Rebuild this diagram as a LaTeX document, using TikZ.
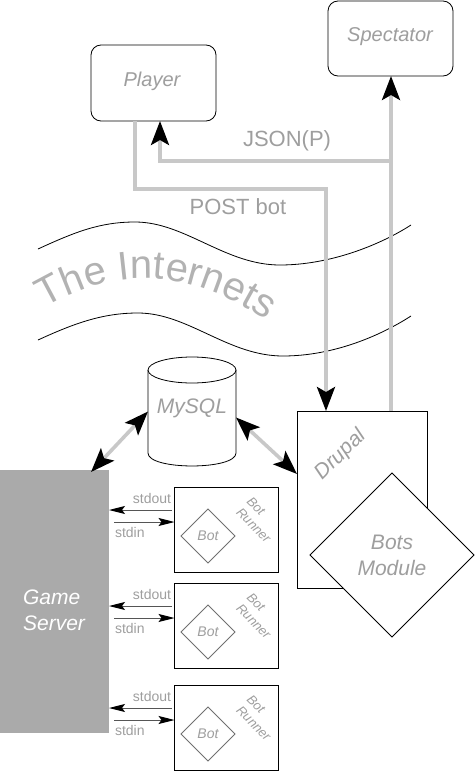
\documentclass[tikz,border=0pt]{standalone}
\usepackage{fontspec}
\setmainfont{Liberation Sans}
\usetikzlibrary{arrows.meta,shapes.geometric,decorations.text,calc}
\definecolor{txtgray}{HTML}{9E9E9E}
\definecolor{linegray}{HTML}{C8C8C8}
\definecolor{gsgray}{HTML}{AAAAAA}
\definecolor{netgray}{HTML}{B2B2B2}
\definecolor{thingray}{HTML}{555555}
\definecolor{botgray}{HTML}{707070}
\newcommand\netfont{\fontsize{40}{40}\selectfont}
\begin{document}
\begin{tikzpicture}[x=1pt,y=-1pt,
  every node/.style={inner sep=0pt, outer sep=0pt},
  clientbox/.style={draw=black, line width=0.8pt, fill=white, rounded corners=10pt, minimum width=125pt, minimum height=76pt},
  lbl/.style={text=txtgray, font=\fontsize{20}{24}\selectfont\itshape},
  biglbl/.style={text=txtgray, font=\fontsize{21}{26}\selectfont\itshape, align=center},
  flowlbl/.style={text=txtgray, font=\fontsize{22}{26}\selectfont},
  pipelbl/.style={text=txtgray, font=\fontsize{14}{16}\selectfont},
  gline/.style={draw=linegray, line width=3.6pt},
  bigtip/.style={-{Stealth[length=24pt,width=18pt,inset=5pt,color=black]}},
  bothtip/.style={{Stealth[length=24pt,width=18pt,inset=5pt,color=black]}-{Stealth[length=24pt,width=18pt,inset=5pt,color=black]}},
  pipe/.style={draw=thingray, line width=1pt, -{Stealth[length=16pt,width=8pt,inset=3pt,color=black]}},
  wave/.style={draw=black, line width=0.8pt},
  runnerbox/.style={draw=black, line width=0.8pt, minimum width=104pt, minimum height=85pt},
  botdia/.style={diamond, draw=botgray, line width=0.8pt, minimum width=54pt, minimum height=54pt, aspect=1},
]
\useasboundingbox (0,0) rectangle (474,771);

% clients
\node[clientbox] (player) at (153.5,83) {};
\node[lbl] (playertxt) at (152,81) {Player};
\node[clientbox, minimum height=75pt] (spectator) at (390.5,38.5) {};
\node[lbl] (spectatortxt) at (390,37) {Spectator};

% the internets
\draw[wave] (38,249) .. controls (75,232) and (100,222) .. (135,222)
  .. controls (185,222) and (225,265) .. (280,265)
  .. controls (330,265) and (380,245) .. (411,225);
\draw[wave] (38,340) .. controls (75,323) and (103,313) .. (138,313)
  .. controls (188,313) and (228,356) .. (283,356)
  .. controls (333,356) and (380,336) .. (411,316);
\path[decorate, decoration={text along path, text align=left,
  text color=netgray, text={|\netfont|The Internets}}]
  (45,308) .. controls (112,268) and (192,262) .. (287,335);

% drupal
\node[draw=black, line width=0.8pt, fill=white, minimum width=130pt, minimum height=177pt] (drupal) at (362,499.5) {};
\node[biglbl, rotate=45] (drupaltxt) at (341,455) {Drupal};
\node[diamond, aspect=1, draw=black, line width=0.8pt, fill=white, minimum width=164pt, minimum height=164pt] (botsmod) at (392,555) {};
\node[biglbl] (botsmodtxt) at (392,555) {Bots\\Module};

% flows
\coordinate (jtop) at ([xshift=29pt]drupal.north);
\coordinate (jsplit) at (391,161);
\draw[gline,bigtip] (jtop) -- (jtop |- spectator.south);
\draw[gline,bigtip] (jsplit) -| ([xshift=6.5pt]player.south);
\node[flowlbl] (jsonlbl) at (287,141) {JSON(P)};
\coordinate (pstart) at ([xshift=-18.5pt]player.south);
\draw[gline,bigtip] (pstart) -- ++(0,68) -| ([xshift=-36pt]drupal.north);
\node[flowlbl] (postlbl) at (238,207) {POST bot};

% mysql
\node[minimum width=88pt, minimum height=109pt] (mysql) at (192,411.5) {};
\draw[black, line width=0.8pt, fill=white] (148,370) -- (148,453)
  .. controls (148,470.3) and (236,470.3) .. (236,453) -- (236,370);
\draw[black, line width=0.8pt, fill=white] (192,370) ellipse [x radius=44pt, y radius=13pt];
\node[biglbl] (mysqltxt) at (192,408) {MySQL};

% game server
\node[fill=gsgray, minimum width=109pt, minimum height=263pt] (gs) at (54.5,601.5) {};
\node[text=white, font=\fontsize{21}{26}\selectfont\itshape, align=left] (gstxt) at (54,610) {Game\\Server};

\draw[gline,bothtip] (mysql.west) -- ([xshift=-18pt,yshift=-2pt]gs.north east);
\draw[gline,bothtip] ([yshift=-6pt]mysql.east) -- ([yshift=-63pt]drupal.north west);

% bot runners
\foreach \t/\n in {487/1,583/2,685/3}{
  \node[runnerbox] (run\n) at (226.5,\t+42.5) {};
  \node[botdia] (bot\n) at (208,\t+49) {};
  \node[text=txtgray, font=\fontsize{14}{16}\selectfont\itshape] (bottxt\n) at (208,\t+49) {Bot};
  \node[text=txtgray, font=\fontsize{13}{15}\selectfont\itshape, align=left, rotate=-45] (runtxt\n) at (259,\t+33) {Bot\\Runner};
  \coordinate (so\n) at (172,\t+23);
  \coordinate (si\n) at (114,\t+35);
  \draw[pipe] (so\n) -- (so\n -| gs.east);
  \draw[pipe] (si\n) -- (si\n -| run\n.west);
  \node[pipelbl, anchor=base east] (stdout\n) at (171,\t+16) {stdout};
  \node[pipelbl, anchor=base west] (stdin\n) at (115,\t+50) {stdin};
}
\end{tikzpicture}
\end{document}
